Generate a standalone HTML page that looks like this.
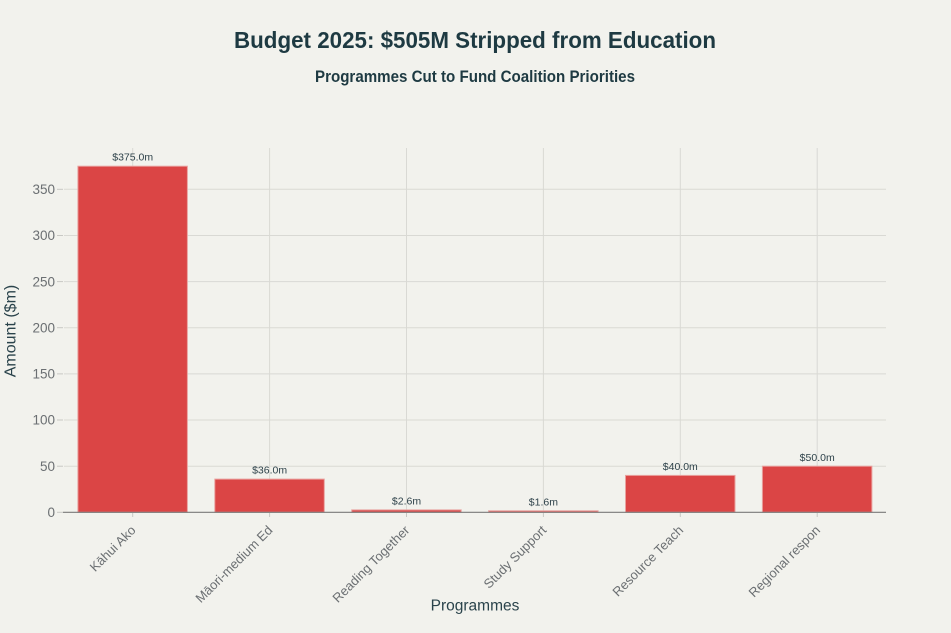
<!DOCTYPE html>
<html>
<head>
<meta charset="utf-8">
<style>
  html,body{margin:0;padding:0;background:#f2f2ed;}
  svg{display:block;}
  text{font-family:"Liberation Sans", Arial, sans-serif;}
</style>
</head>
<body>
<svg width="951" height="633" viewBox="0 0 951 633" xmlns="http://www.w3.org/2000/svg">
  <rect x="0" y="0" width="951" height="633" fill="#f2f2ed"/>

  <!-- Title -->
  <text x="475" y="48" text-anchor="middle" font-size="23" font-weight="bold" fill="#1e3a42" textLength="482" lengthAdjust="spacingAndGlyphs">Budget 2025: $505M Stripped from Education</text>
  <text x="475" y="82" text-anchor="middle" font-size="16.5" font-weight="bold" fill="#1e3a42" textLength="320" lengthAdjust="spacingAndGlyphs">Programmes Cut to Fund Coalition Priorities</text>

  <!-- horizontal gridlines -->
  <g stroke="#d9d9d4" stroke-width="1">
    <line x1="64" y1="466.2" x2="886" y2="466.2"/>
    <line x1="64" y1="420.0" x2="886" y2="420.0"/>
    <line x1="64" y1="373.9" x2="886" y2="373.9"/>
    <line x1="64" y1="327.7" x2="886" y2="327.7"/>
    <line x1="64" y1="281.6" x2="886" y2="281.6"/>
    <line x1="64" y1="235.5" x2="886" y2="235.5"/>
    <line x1="64" y1="189.3" x2="886" y2="189.3"/>
  </g>
  <!-- vertical gridlines -->
  <g stroke="#d9d9d4" stroke-width="1">
    <line x1="132.7" y1="148" x2="132.7" y2="512"/>
    <line x1="269.6" y1="148" x2="269.6" y2="512"/>
    <line x1="406.5" y1="148" x2="406.5" y2="512"/>
    <line x1="543.4" y1="148" x2="543.4" y2="512"/>
    <line x1="680.3" y1="148" x2="680.3" y2="512"/>
    <line x1="817.2" y1="148" x2="817.2" y2="512"/>
  </g>

  <!-- y ticks -->
  <g stroke="#c8c8c4" stroke-width="1">
    <line x1="57" y1="512.3" x2="63" y2="512.3"/>
    <line x1="57" y1="466.2" x2="63" y2="466.2"/>
    <line x1="57" y1="420.0" x2="63" y2="420.0"/>
    <line x1="57" y1="373.9" x2="63" y2="373.9"/>
    <line x1="57" y1="327.7" x2="63" y2="327.7"/>
    <line x1="57" y1="281.6" x2="63" y2="281.6"/>
    <line x1="57" y1="235.5" x2="63" y2="235.5"/>
    <line x1="57" y1="189.3" x2="63" y2="189.3"/>
  </g>
  <g font-size="13.5" fill="#6b6f72" text-anchor="end">
    <text x="55" y="517">0</text>
    <text x="55" y="470.9">50</text>
    <text x="55" y="424.7">100</text>
    <text x="55" y="378.6">150</text>
    <text x="55" y="332.4">200</text>
    <text x="55" y="286.3">250</text>
    <text x="55" y="240.2">300</text>
    <text x="55" y="194">350</text>
  </g>

  <!-- bars -->
  <g fill="#db4545" stroke="#e9a3a0" stroke-width="1">
    <rect x="77.9" y="166.2" width="109.5" height="346.1"/>
    <rect x="214.8" y="479.1" width="109.5" height="33.2"/>
    <rect x="351.7" y="509.9" width="109.5" height="2.4"/>
    <rect x="488.6" y="510.8" width="109.5" height="1.5"/>
    <rect x="625.5" y="475.4" width="109.5" height="36.9"/>
    <rect x="762.4" y="466.2" width="109.5" height="46.1"/>
  </g>

  <!-- zero line -->
  <line x1="63" y1="512.3" x2="886" y2="512.3" stroke="#7a7a7a" stroke-width="1.2"/>

  <!-- x ticks -->
  <g stroke="#c8c8c4" stroke-width="1">
    <line x1="132.7" y1="513" x2="132.7" y2="517"/>
    <line x1="269.6" y1="513" x2="269.6" y2="517"/>
    <line x1="406.5" y1="513" x2="406.5" y2="517"/>
    <line x1="543.4" y1="513" x2="543.4" y2="517"/>
    <line x1="680.3" y1="513" x2="680.3" y2="517"/>
    <line x1="817.2" y1="513" x2="817.2" y2="517"/>
  </g>

  <!-- value labels -->
  <g font-size="10.5" fill="#2e424a" text-anchor="middle">
    <text x="132.7" y="160.7">$375.0m</text>
    <text x="269.6" y="473.6">$36.0m</text>
    <text x="406.5" y="504.6">$2.6m</text>
    <text x="543.4" y="505.5">$1.6m</text>
    <text x="680.3" y="470">$40.0m</text>
    <text x="817.2" y="460.8">$50.0m</text>
  </g>

  <!-- x category labels -->
  <g font-size="13" fill="#6b6f72" text-anchor="end">
    <text transform="translate(136.5,531) rotate(-45)">Kāhui Ako</text>
    <text transform="translate(273.4,531) rotate(-45)">Māori-medium Ed</text>
    <text transform="translate(410.3,531) rotate(-45)">Reading Together</text>
    <text transform="translate(547.2,531) rotate(-45)">Study Support</text>
    <text transform="translate(684.1,531) rotate(-45)">Resource Teach</text>
    <text transform="translate(821,531) rotate(-45)">Regional respon</text>
  </g>

  <!-- axis titles -->
  <text x="475" y="610.7" text-anchor="middle" font-size="15.5" fill="#2a434b">Programmes</text>
  <text transform="translate(15.5,331) rotate(-90)" text-anchor="middle" font-size="16" fill="#2a434b">Amount ($m)</text>
</svg>
</body>
</html>
